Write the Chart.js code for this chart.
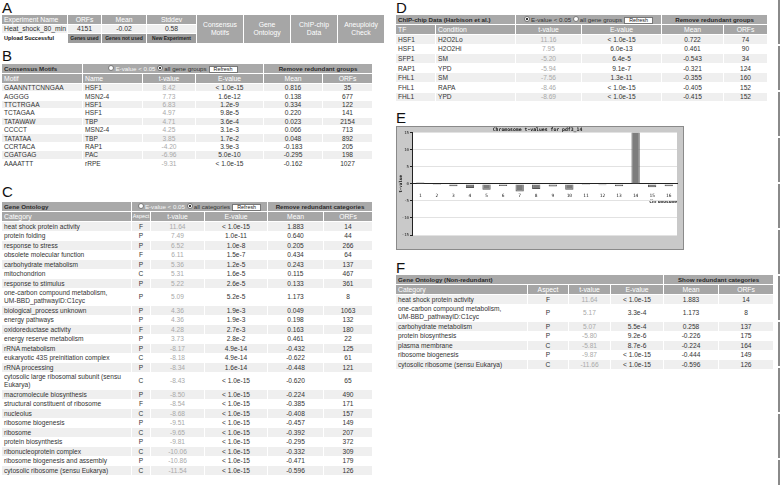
<!DOCTYPE html>
<html>
<head>
<meta charset="utf-8">
<script src="https://cdn.jsdelivr.net/npm/chart.js@4.4.0/dist/chart.umd.min.js"></script>
<style>
html, body { margin: 0; padding: 0; background: #fff; }
body { position: relative; width: 781px; height: 485px; overflow: hidden; font-family: "Liberation Sans", Arial, sans-serif; color: #333; }
.lbl { position: absolute; font-size: 15px; line-height: 15px; color: #111; }
table { position: absolute; border-collapse: separate; border-spacing: 1px; table-layout: fixed; font-size: 6.6px; }
td { padding: 0 2px; white-space: nowrap; overflow: hidden; vertical-align: middle; line-height: 7px; }
td.w { white-space: pre-line; line-height: 7.6px; }
td.np { padding: 0; font-size: 5.4px !important; overflow: visible; }
tr.h1 td { background: #a9a9a9; color: #2a2a2a; font-weight: bold; font-size: 6.2px; }
tr.h2 td { background: #a6a6a6; color: #fff; font-size: 6.8px; }
tr.g td { background: #efefef; }
td.t { color: #a9a9a9; }
td.big { background: #a9a9a9; color: #333; font-size: 7.2px; line-height: 8px; text-align: center; white-space: normal; }
td.btn2 { background: #9c9c9c; color: #222; font-weight: bold; font-size: 5px; text-align: center; padding: 0; }
.rb { display: inline-block; width: 4px; height: 4px; border-radius: 50%; background: #fff; border: 0.5px solid #777; vertical-align: -0.5px; margin-right: 1px; }
.rb.on { background: radial-gradient(circle, #333 0 1px, #fff 1.2px); }
.rf { display: inline-block; background: #fff; border: 1px solid #777; color: #222; font-weight: normal; font-size: 5.4px; line-height: 5px; padding: 0 4px; margin-left: 2px; vertical-align: 0; }
#chartBox { position: absolute; left: 396px; top: 126px; width: 286px; height: 122px; border: 1px solid #8a8a8a; }
#edge { position: absolute; left: 778px; top: 0; width: 2px; height: 485px; background: repeating-linear-gradient(#8a8a8a 0 44px, #fff 44px 46px); }
</style>
</head>
<body>
<div class="lbl" style="left:2px;top:0px">A</div>
<div class="lbl" style="left:2px;top:48px">B</div>
<div class="lbl" style="left:2px;top:184px">C</div>
<div class="lbl" style="left:396px;top:0px">D</div>
<div class="lbl" style="left:396px;top:110px">E</div>
<div class="lbl" style="left:396px;top:260px">F</div>
<div id="edge"></div>

<table id="tabA" style="left:1px;top:14px;width:384px">
  <colgroup><col style="width:65px"><col style="width:33px"><col style="width:44px"><col style="width:49px"><col style="width:46px"><col style="width:46px"><col style="width:46px"><col style="width:46px"></colgroup>
  <tr class="h2" style="height:8.5px"><td>Experiment Name</td><td style="text-align:center">ORFs</td><td style="text-align:center">Mean</td><td style="text-align:center">Stddev</td>
    <td class="big" rowspan="3">Consensus Motifs</td><td class="big" rowspan="3">Gene Ontology</td><td class="big" rowspan="3">ChIP-chip Data</td><td class="big" rowspan="3">Aneuploidy Check</td></tr>
  <tr class="g" style="height:8.5px"><td style="font-size:6.8px">Heat_shock_80_min</td><td style="text-align:center;font-size:6.8px">4151</td><td style="text-align:center;font-size:6.8px">-0.02</td><td style="text-align:center;font-size:6.8px">0.58</td></tr>
  <tr style="height:8.5px"><td style="font-weight:bold;font-size:5.6px;color:#111">Upload Successful</td><td class="btn2">Genes used</td><td class="btn2">Genes not used</td><td class="btn2">New Experiment</td></tr>
</table>

<div id="chartBox"><canvas id="chart" width="286" height="122"></canvas></div>

<script>
// panel E: chromosome t-values
let chromosomes = ["1", "2", "3", "4", "5", "6", "7", "8", "9", "10", "11", "12", "13", "14", "15", "16"];
let tValues = [0.4, -0.3, -0.7, -1.2, -1.7, -0.6, -2.2, -1.5, -0.8, -1.7, -0.3, -0.4, -0.7, 16, -1.0, -0.7];

// table data (rows are text as shown)
let motifRows = [
    ["GAANNTTCNNGAA", "HSF1", "8.42", "< 1.0e-15", "0.816", "35"],
    ["AGGGG", "MSN2-4", "7.73", "1.6e-12", "0.138", "677"],
    ["TTCTRGAA", "HSF1", "6.83", "1.2e-9", "0.334", "122"],
    ["TCTAGAA", "HSF1", "4.97", "9.8e-5", "0.220", "141"],
    ["TATAWAW", "TBP", "4.71", "3.6e-4", "0.023", "2154"],
    ["CCCCT", "MSN2-4", "4.25", "3.1e-3", "0.066", "713"],
    ["TATATAA", "TBP", "3.85", "1.7e-2", "0.048", "892"],
    ["CCRTACA", "RAP1", "-4.20", "3.9e-3", "-0.183", "205"],
    ["CGATGAG", "PAC", "-6.96", "5.0e-10", "-0.295", "198"],
    ["AAAATTT", "rRPE", "-9.31", "< 1.0e-15", "-0.162", "1027"]
];
let goRows = [
    ["heat shock protein activity", "F", "11.64", "< 1.0e-15", "1.883", "14"],
    ["protein folding", "P", "7.49", "1.0e-11", "0.640", "44"],
    ["response to stress", "P", "6.52", "1.0e-8", "0.205", "266"],
    ["obsolete molecular function", "F", "6.11", "1.5e-7", "0.434", "64"],
    ["carbohydrate metabolism", "P", "5.36", "1.2e-5", "0.243", "137"],
    ["mitochondrion", "C", "5.31", "1.6e-5", "0.115", "467"],
    ["response to stimulus", "P", "5.22", "2.6e-5", "0.133", "361"],
    ["one-carbon compound metabolism,\nUM-BBD_pathwayID:C1cyc", "P", "5.09", "5.2e-5", "1.173", "8"],
    ["biological_process unknown", "P", "4.36", "1.9e-3", "0.049", "1063"],
    ["energy pathways", "P", "4.36", "1.9e-3", "0.198", "132"],
    ["oxidoreductase activity", "F", "4.28", "2.7e-3", "0.163", "180"],
    ["energy reserve metabolism", "P", "3.73", "2.8e-2", "0.461", "22"],
    ["rRNA metabolism", "P", "-8.17", "4.9e-14", "-0.432", "125"],
    ["eukaryotic 43S preinitiation complex", "C", "-8.18", "4.9e-14", "-0.622", "61"],
    ["rRNA processing", "P", "-8.34", "1.6e-14", "-0.448", "121"],
    ["cytosolic large ribosomal subunit (sensu\nEukarya)", "C", "-8.43", "< 1.0e-15", "-0.620", "65"],
    ["macromolecule biosynthesis", "P", "-8.50", "< 1.0e-15", "-0.224", "490"],
    ["structural constituent of ribosome", "F", "-8.54", "< 1.0e-15", "-0.385", "171"],
    ["nucleolus", "C", "-8.68", "< 1.0e-15", "-0.408", "157"],
    ["ribosome biogenesis", "P", "-9.51", "< 1.0e-15", "-0.457", "149"],
    ["ribosome", "C", "-9.65", "< 1.0e-15", "-0.392", "207"],
    ["protein biosynthesis", "P", "-9.81", "< 1.0e-15", "-0.295", "372"],
    ["ribonucleoprotein complex", "C", "-10.06", "< 1.0e-15", "-0.332", "309"],
    ["ribosome biogenesis and assembly", "P", "-10.86", "< 1.0e-15", "-0.471", "179"],
    ["cytosolic ribosome (sensu Eukarya)", "C", "-11.54", "< 1.0e-15", "-0.596", "126"]
];
let chipRows = [
    ["HSF1", "H2O2Lo", "11.16", "< 1.0e-15", "0.722", "74"],
    ["HSF1", "H2O2Hi", "7.95", "6.0e-13", "0.461", "90"],
    ["SFP1", "SM", "-5.20", "6.4e-5", "-0.543", "34"],
    ["RAP1", "YPD", "-5.94", "9.1e-7", "-0.321", "124"],
    ["FHL1", "SM", "-7.56", "1.3e-11", "-0.355", "160"],
    ["FHL1", "RAPA", "-8.46", "< 1.0e-15", "-0.405", "152"],
    ["FHL1", "YPD", "-8.69", "< 1.0e-15", "-0.415", "152"]
];
let goNrRows = [
    ["heat shock protein activity", "F", "11.64", "< 1.0e-15", "1.883", "14"],
    ["one-carbon compound metabolism,\nUM-BBD_pathwayID:C1cyc", "P", "5.17", "3.3e-4", "1.173", "8"],
    ["carbohydrate metabolism", "P", "5.07", "5.5e-4", "0.258", "137"],
    ["protein biosynthesis", "P", "-5.80", "9.2e-6", "-0.226", "175"],
    ["plasma membrane", "C", "-5.81", "8.7e-6", "-0.224", "164"],
    ["ribosome biogenesis", "P", "-9.87", "< 1.0e-15", "-0.444", "149"],
    ["cytosolic ribosome (sensu Eukarya)", "C", "-11.66", "< 1.0e-15", "-0.596", "126"]
];

function esc(s) {
    return s.replace(/&/g, "&amp;").replace(/</g, "&lt;");
}

function radios(second, firstOn) {
    return `<span class="rb${firstOn ? " on" : ""}"></span><span style="color:${firstOn ? "#333" : "#f6f6f6"};font-weight:normal">E-value &lt; 0.05</span> ` +
        `<span class="rb${firstOn ? "" : " on"}"></span><span style="font-weight:normal;color:#333">${second}</span><span class="rf">Refresh</span>`;
}

function buildTable(o) {
    let t = document.createElement("table");
    t.style.left = o.x + "px";
    t.style.top = o.y + "px";
    t.style.width = (o.cols.reduce((a, b) => a + b, 0) + o.cols.length + 1) + "px";
    let html = "<colgroup>" + o.cols.map(w => `<col style="width:${w}px">`).join("") + "</colgroup>";
    html += `<tr class="h1" style="height:9px">` + o.head1.map(h => `<td colspan="${h[1]}" style="text-align:${h[2]}">${h[0]}</td>`).join("") + "</tr>";
    html += `<tr class="h2" style="height:9px">` + o.head2.map((h, i) => `<td class="${o.cols[i] < 20 ? "np" : ""}" style="text-align:${o.align[i]}">${h}</td>`).join("") + "</tr>";
    o.rows.forEach((r, k) => {
        let dbl = r[0].includes("\n");
        html += `<tr class="${k % 2 ? "" : "g"}" style="height:${dbl ? o.dh : o.rh}px">` +
            r.map((v, i) => `<td class="${i === o.tcol ? "t" : ""}${dbl && i === 0 ? " w" : ""}" style="text-align:${o.align[i]}">${esc(v)}</td>`).join("") + "</tr>";
    });
    t.innerHTML = html;
    document.body.appendChild(t);
}

let al = ["left", "left", "center", "center", "center", "center"];
let alGo = ["left", "center", "center", "center", "center", "center"];

buildTable({
    x: 1, y: 63, cols: [80, 59, 52, 67, 58, 49], rh: 7.4, dh: 15, tcol: 2, align: al,
    head1: [["Consensus Motifs", 1, "left"], [radios("all gene groups", false), 3, "center"], ["Remove redundant groups", 2, "center"]],
    head2: ["Motif", "Name", "t-value", "E-value", "Mean", "ORFs"],
    rows: motifRows
});
buildTable({
    x: 1, y: 201, cols: [129, 18, 53, 62, 55, 48], rh: 8.5, dh: 16.5, tcol: 2, align: alGo,
    head1: [["Gene Ontology", 1, "left"], [radios("all categories", false), 3, "center"], ["Remove redundant categories", 2, "center"]],
    head2: ["Category", "Aspect", "t-value", "E-value", "Mean", "ORFs"],
    rows: goRows
});
buildTable({
    x: 395, y: 14, cols: [39, 79, 65, 79, 61, 43], rh: 8.6, dh: 16.5, tcol: 2, align: al,
    head1: [["ChIP-chip Data (Harbison et al.)", 2, "left"], [radios("all gene groups", true), 2, "center"], ["Remove redundant groups", 2, "center"]],
    head2: ["TF", "Condition", "t-value", "E-value", "Mean", "ORFs"],
    rows: chipRows
});
buildTable({
    x: 395, y: 274, cols: [131, 40, 41, 52, 54, 54], rh: 8.5, dh: 16.5, tcol: 2, align: alGo,
    head1: [["Gene Ontology (Non-redundant)", 4, "left"], ["Show redundant categories", 2, "center"]],
    head2: ["Category", "Aspect", "t-value", "E-value", "Mean", "ORFs"],
    rows: goNrRows
});

// gray frame with white plot area
let framePlugin = {
    id: "frame",
    beforeDraw(chart) {
        let ctx = chart.ctx;
        let a = chart.chartArea;
        ctx.save();
        ctx.fillStyle = "#c9c9c9";
        ctx.fillRect(0, 0, chart.width, chart.height);
        ctx.fillStyle = "#ffffff";
        ctx.fillRect(a.left, a.top, a.right - a.left, a.bottom - a.top);
        ctx.restore();
    }
};

let mono = "'DejaVu Sans Mono', monospace";
let context = document.getElementById("chart").getContext("2d");
let chart = new Chart(context, {
    type: "bar",
    data: {
        labels: chromosomes,
        datasets: [{
            data: tValues,
            backgroundColor: "#7d7d7d",
            borderColor: "#555555",
            borderWidth: 1,
            barPercentage: 0.5,
            categoryPercentage: 1
        }]
    },
    options: {
        responsive: false,
        animation: false,
        devicePixelRatio: 1,
        layout: { padding: { top: 0, right: 6, bottom: 14, left: 1 } },
        plugins: {
            legend: { display: false },
            tooltip: { enabled: false },
            title: {
                display: true,
                text: "Chromosome t-values for pdf3_14",
                color: "#111",
                font: { family: mono, size: 4.8, weight: "bold", lineHeight: 1.1 },
                padding: { top: 0.5, bottom: 0 }
            }
        },
        scales: {
            x: {
                position: { y: 0 },
                offset: true,
                grid: { display: false },
                border: { color: "#222" },
                ticks: { color: "#222", font: { family: mono, size: 4.5 }, padding: 1, maxRotation: 0, autoSkip: false },
                title: { display: true, text: "Chromosome", align: "end", color: "#111", font: { family: mono, size: 4.6, weight: "bold" }, padding: 0 }
            },
            y: {
                min: -15,
                max: 15,
                ticks: { stepSize: 5, color: "#222", font: { family: mono, size: 4 }, padding: 1 },
                grid: { color: "#e2e2e2", tickLength: 2, tickColor: "#222" },
                border: { color: "#222" },
                title: { display: true, text: "t-value", color: "#111", font: { family: mono, size: 4.2, weight: "bold" }, padding: 0 },
                afterFit: function (s) { s.width = 14; }
            }
        }
    },
    plugins: [framePlugin]
});
</script>
</body>
</html>
